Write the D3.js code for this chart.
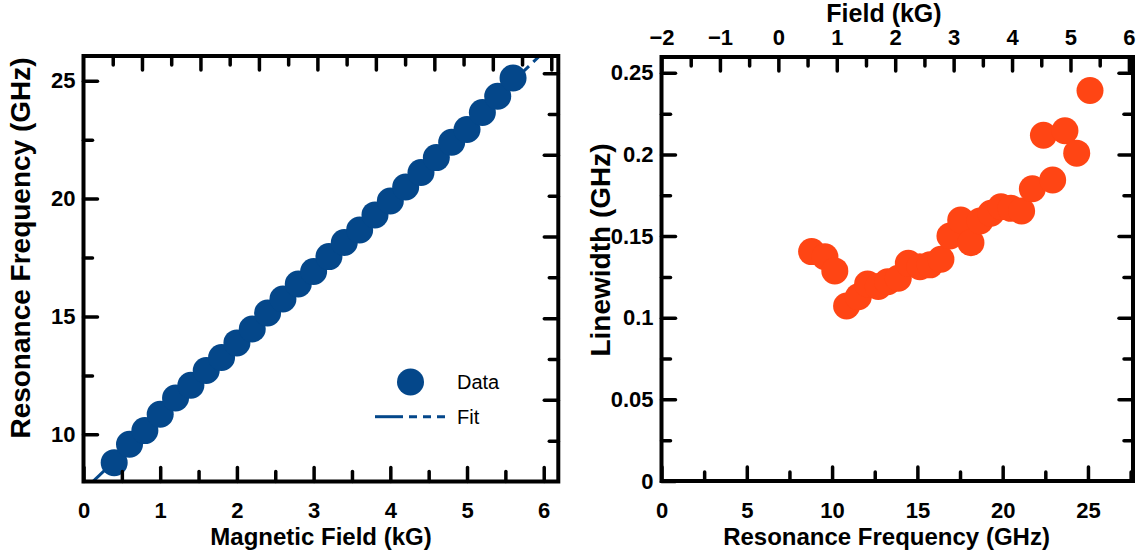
<!DOCTYPE html>
<html>
<head>
<meta charset="utf-8">
<script src="https://cdn.jsdelivr.net/npm/d3@7"></script>
<style>
  body { margin: 0; background: #fff; }
  svg { display: block; font-family: "Liberation Sans", Arial, Helvetica, sans-serif; }
  .tick line { stroke: #000; stroke-width: 3.5; stroke-linecap: round; }
  .tick text { font-size: 22px; font-weight: bold; fill: #000; }
  .title { font-weight: bold; fill: #000; text-anchor: middle; }
</style>
</head>
<body>
<div id="chart"></div>
<script>
// field steps (kG) and measured resonance frequency (GHz)
var fieldKG = [0.4, 0.6, 0.8, 1.0, 1.2, 1.4, 1.6, 1.8, 2.0, 2.2, 2.4, 2.6, 2.8, 3.0,
               3.2, 3.4, 3.6, 3.8, 4.0, 4.2, 4.4, 4.6, 4.8, 5.0, 5.2, 5.4, 5.6];
var freqGHz = [8.80, 9.58, 10.16, 10.85, 11.54, 12.08, 12.71, 13.26, 13.88, 14.47, 15.15,
               15.74, 16.38, 16.91, 17.54, 18.14, 18.67, 19.31, 19.90, 20.49, 21.11, 21.74,
               22.39, 22.93, 23.65, 24.34, 25.12];
// linewidth (GHz) at each frequency
var linewidthGHz = [0.1405, 0.1374, 0.1287, 0.1072, 0.1129, 0.1207, 0.1191, 0.1221, 0.1242,
                    0.1334, 0.1313, 0.1324, 0.1358, 0.1501, 0.1599, 0.1460, 0.1593, 0.1640,
                    0.1680, 0.1670, 0.1654, 0.1790, 0.2118, 0.1844, 0.2145, 0.2008, 0.2392];
// linear fit f = slope*H + intercept
var fitSlope = 3.1, fitIntercept = 7.62;
var fitSolidField = [0, 5.6];
var fitDashField = [5.6, 6.2];

var blue = "#04478a", orange = "#ff4514";

var width = 1138, height = 553;
var svg = d3.select("#chart").append("svg")
    .attr("width", width)
    .attr("height", height);

// ---------- left panel ----------
var L = {x0: 83.5, x1: 558.3, y0: 56, y1: 481.5};
var xL = d3.scaleLinear().domain([0, 6.19]).range([L.x0, L.x1]);
var yL = d3.scaleLinear().domain([8, 26.05]).range([L.y1, L.y0]);
var topL = d3.scaleLinear().domain([-2, 6.12]).range([L.x0, L.x1]);
var rightL = d3.scaleLinear().domain([0, 0.2605]).range([L.y1, L.y0]);

svg.append("clipPath").attr("id", "clipL")
    .append("rect")
    .attr("x", L.x0).attr("y", L.y0)
    .attr("width", L.x1 - L.x0).attr("height", L.y1 - L.y0);

var fitLine = d3.line()
    .x(function (d) { return xL(d); })
    .y(function (d) { return yL(fitSlope * d + fitIntercept); });

svg.append("path")
    .attr("d", fitLine(fitSolidField))
    .attr("clip-path", "url(#clipL)")
    .attr("fill", "none").attr("stroke", blue).attr("stroke-width", 3);
svg.append("path")
    .attr("d", fitLine(fitDashField))
    .attr("clip-path", "url(#clipL)")
    .attr("fill", "none").attr("stroke", blue).attr("stroke-width", 3)
    .attr("stroke-dasharray", "8,6");

svg.append("g").selectAll("circle")
    .data(fieldKG)
    .enter().append("circle")
    .attr("cx", function (d) { return xL(d); })
    .attr("cy", function (d, i) { return yL(freqGHz[i]); })
    .attr("r", 13.5)
    .attr("fill", blue);

function drawAxis(axis, tx, ty) {
    var g = svg.append("g")
        .attr("transform", "translate(" + [tx, ty] + ")")
        .call(axis);
    g.select(".domain").remove();
    return g;
}
function range(a, b, s) { return d3.range(a, b + s / 2, s); }

// bottom
drawAxis(d3.axisBottom(xL).tickValues(range(0, 6, 1)).tickSize(-14).tickPadding(21).tickFormat(d3.format("d")), 0, L.y1);
drawAxis(d3.axisBottom(xL).tickValues(range(0.5, 5.5, 1)).tickSize(-10).tickFormat(""), 0, L.y1);
// left
drawAxis(d3.axisLeft(yL).tickValues([10, 15, 20, 25]).tickSize(-14).tickPadding(8), L.x0, 0);
drawAxis(d3.axisLeft(yL).tickValues([12.5, 17.5, 22.5]).tickSize(-9).tickFormat(""), L.x0, 0);
// top (mirror of field scale)
drawAxis(d3.axisTop(topL).tickValues(range(-1, 6, 1)).tickSize(-14).tickFormat(""), 0, L.y0);
drawAxis(d3.axisTop(topL).tickValues(range(-1.5, 5.5, 1)).tickSize(-9).tickFormat(""), 0, L.y0);
// right (mirror of linewidth scale)
drawAxis(d3.axisRight(rightL).tickValues(range(0.05, 0.25, 0.05)).tickSize(-14).tickFormat(""), L.x1, 0);
drawAxis(d3.axisRight(rightL).tickValues(range(0.025, 0.225, 0.05)).tickSize(-9).tickFormat(""), L.x1, 0);

svg.append("rect")
    .attr("x", L.x0).attr("y", L.y0)
    .attr("width", L.x1 - L.x0).attr("height", L.y1 - L.y0)
    .attr("fill", "none").attr("stroke", "#000").attr("stroke-width", 4);

svg.append("text").attr("class", "title")
    .attr("transform", "translate(30,248)rotate(-90)")
    .style("font-size", "28px")
    .text("Resonance Frequency (GHz)");
svg.append("text").attr("class", "title")
    .attr("x", 321).attr("y", 545)
    .style("font-size", "24px")
    .text("Magnetic Field (kG)");

// legend
var legend = svg.append("g");
legend.append("circle").attr("cx", 410.5).attr("cy", 382).attr("r", 13.5).attr("fill", blue);
legend.append("text").attr("x", 457).attr("y", 389).style("font-size", "20px").text("Data");
legend.append("line").attr("x1", 375).attr("x2", 403).attr("y1", 416.7).attr("y2", 416.7)
    .attr("stroke", blue).attr("stroke-width", 3);
legend.append("line").attr("x1", 409).attr("x2", 446).attr("y1", 416.7).attr("y2", 416.7)
    .attr("stroke", blue).attr("stroke-width", 3).attr("stroke-dasharray", "8,6");
legend.append("text").attr("x", 457).attr("y", 423.5).style("font-size", "20px").text("Fit");

// ---------- right panel ----------
var R = {x0: 661.5, x1: 1133, y0: 57, y1: 481};
var xR = d3.scaleLinear().domain([0, 27.64]).range([R.x0, R.x1]);
var topR = d3.scaleLinear().domain([-2, 6.07]).range([R.x0, R.x1]);
var yR = d3.scaleLinear().domain([0, 0.2597]).range([R.y1, R.y0]);

svg.append("g").selectAll("circle")
    .data(freqGHz)
    .enter().append("circle")
    .attr("cx", function (d) { return xR(d); })
    .attr("cy", function (d, i) { return yR(linewidthGHz[i]); })
    .attr("r", 13.5)
    .attr("fill", orange);

var lwFormat = function (d) { return d === 0 ? "0" : String(+d.toFixed(2)); };
var fieldFormat = function (d) { return d < 0 ? "\u2212" + Math.abs(d) : String(d); };

drawAxis(d3.axisBottom(xR).tickValues(range(0, 25, 5)).tickSize(-14).tickPadding(21).tickFormat(d3.format("d")), 0, R.y1);
drawAxis(d3.axisBottom(xR).tickValues(range(2.5, 27.5, 5)).tickSize(-9).tickFormat(""), 0, R.y1);
drawAxis(d3.axisTop(topR).tickValues(range(-2, 6, 1)).tickSize(-14).tickPadding(12).tickFormat(fieldFormat), 0, R.y0);
drawAxis(d3.axisTop(topR).tickValues(range(-1.5, 5.5, 1)).tickSize(-9).tickFormat(""), 0, R.y0);
drawAxis(d3.axisLeft(yR).tickValues(range(0, 0.25, 0.05)).tickSize(-14).tickPadding(8).tickFormat(lwFormat), R.x0, 0);
drawAxis(d3.axisLeft(yR).tickValues(range(0.025, 0.225, 0.05)).tickSize(-9).tickFormat(""), R.x0, 0);
drawAxis(d3.axisRight(yR).tickValues(range(0.05, 0.25, 0.05)).tickSize(-14).tickFormat(""), R.x1, 0);
drawAxis(d3.axisRight(yR).tickValues(range(0.025, 0.225, 0.05)).tickSize(-9).tickFormat(""), R.x1, 0);

svg.append("rect")
    .attr("x", R.x0).attr("y", R.y0)
    .attr("width", R.x1 - R.x0).attr("height", R.y1 - R.y0)
    .attr("fill", "none").attr("stroke", "#000").attr("stroke-width", 4);

svg.append("text").attr("class", "title")
    .attr("transform", "translate(610,250)rotate(-90)")
    .style("font-size", "28px")
    .text("Linewidth (GHz)");
svg.append("text").attr("class", "title")
    .attr("x", 886.5).attr("y", 545)
    .style("font-size", "24px")
    .text("Resonance Frequency (GHz)");
svg.append("text").attr("class", "title")
    .attr("x", 884).attr("y", 22)
    .style("font-size", "25px")
    .text("Field (kG)");
</script>
</body>
</html>
